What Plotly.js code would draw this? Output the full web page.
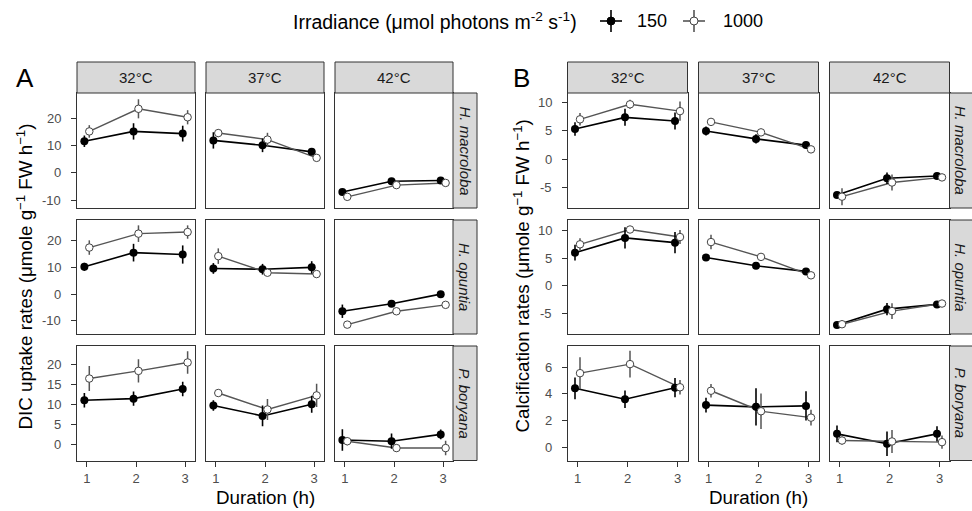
<!DOCTYPE html>
<html><head><meta charset="utf-8">
<script src="https://cdn.plot.ly/plotly-3.0.1.min.js"></script>
<style>html,body{margin:0;padding:0;background:#fff}#chart{width:972px;height:511px}</style>
</head><body><div id="chart"></div>
<script>
// ---------------- DATA ----------------
const durations = [1, 2, 3];
const temperatures = ['32°C', '37°C', '42°C'];
const species = ['H. macroloba', 'H. opuntia', 'P. boryana'];
const irradiances = ['150', '1000'];

// DIC uptake rates: [species][temperature][duration]
const dic150Mean = [
  [[11.6, 15.2, 14.4], [11.9, 10.1, 7.7], [-7.0, -3.1, -2.8]],
  [[10.2, 15.5, 14.8], [9.6, 9.3, 10.0], [-6.4, -3.6, 0.0]],
  [[11.1, 11.5, 13.9], [9.8, 7.2, 10.1], [1.2, 0.9, 2.6]]
];
const dic150Err = [
  [[2.1, 3.0, 2.9], [3.0, 2.5, 1.0], [1.0, 0.8, 0.8]],
  [[1.5, 3.3, 3.4], [2.0, 2.0, 2.3], [2.5, 0.8, 1.2]],
  [[1.8, 1.8, 1.8], [1.3, 2.6, 2.1], [2.7, 1.9, 1.2]]
];
const dic1000Mean = [
  [[15.2, 23.5, 20.4], [14.6, 12.2, 5.5], [-8.8, -4.5, -3.7]],
  [[17.4, 22.6, 23.2], [14.2, 8.0, 7.5], [-11.4, -6.4, -4.0]],
  [[16.5, 18.4, 20.5], [12.9, 8.8, 12.3], [0.9, -0.8, -0.8]]
];
const dic1000Err = [
  [[2.3, 3.5, 2.6], [1.5, 2.5, 0.8], [1.2, 0.8, 0.8]],
  [[2.7, 3.1, 2.5], [2.9, 1.0, 1.0], [0.8, 0.8, 0.8]],
  [[3.1, 2.9, 2.8], [0.7, 2.6, 2.9], [1.0, 1.0, 1.8]]
];

// Calcification rates: [species][temperature][duration]
const calc150Mean = [
  [[5.35, 7.4, 6.75], [5.0, 3.6, 2.5], [-6.3, -3.35, -2.95]],
  [[5.95, 8.6, 7.75], [5.1, 3.6, 2.6], [-7.0, -4.15, -3.3]],
  [[4.42, 3.6, 4.47], [3.16, 3.03, 3.1], [1.0, 0.26, 1.0]]
];
const calc150Err = [
  [[1.2, 1.5, 1.5], [0.8, 0.8, 0.4], [0.5, 1.0, 0.5]],
  [[1.4, 1.9, 1.9], [0.6, 0.4, 0.5], [0.4, 1.1, 0.5]],
  [[0.82, 0.65, 0.72], [0.55, 1.4, 1.1], [0.63, 0.92, 0.57]]
];
const calc1000Mean = [
  [[7.05, 9.7, 8.5], [6.6, 4.75, 1.75], [-6.6, -4.1, -3.2]],
  [[7.45, 10.1, 8.75], [7.85, 5.2, 1.9], [-6.85, -4.5, -3.15]],
  [[5.56, 6.24, 4.5], [4.24, 2.7, 2.22], [0.5, 0.43, 0.38]]
];
const calc1000Err = [
  [[1.1, 0.8, 1.7], [0.5, 0.4, 0.4], [1.5, 1.4, 0.4]],
  [[1.1, 0.5, 1.25], [1.3, 0.4, 0.4], [0.5, 1.4, 0.4]],
  [[1.2, 1.0, 0.55], [0.5, 1.33, 0.6], [0.3, 0.86, 0.5]]
];

// tick labels
const yTicksDIC = [[-10, 0, 10, 20], [-10, 0, 10, 20], [0, 5, 10, 15, 20]];
const yTicksCalc = [[-5, 0, 5, 10], [-5, 0, 5, 10], [0, 2, 4, 6]];

// ---------------- LAYOUT GEOMETRY ----------------
const W = 972, H = 511;
const FONT = 'Liberation Sans, Arial, sans-serif';
const px = v => v / W;
const py = v => 1 - v / H;

const panels = [
  {
    letter: 'A', letterX: 25,
    title: 'DIC uptake rates (μmole g<sup>−1</sup> FW h<sup>−1</sup>)', titleX: 24,
    cols: [[77, 195], [206, 324], [335, 453]], stripR: 477,
    yRanges: [[-12.9, 29.3], [-14.9, 27.7], [-3.9, 24.6]],
    yTicks: yTicksDIC,
    m150: dic150Mean, e150: dic150Err, m1000: dic1000Mean, e1000: dic1000Err
  },
  {
    letter: 'B', letterX: 521,
    title: 'Calcification rates (μmole g<sup>−1</sup> FW h<sup>−1</sup>)', titleX: 521,
    cols: [[567.5, 687.5], [698.5, 818.5], [829.5, 949.5]], stripR: 974,
    yRanges: [[-8.6, 11.7], [-8.6, 11.8], [-1.0, 7.6]],
    yTicks: yTicksCalc,
    m150: calc150Mean, e150: calc150Err, m1000: calc1000Mean, e1000: calc1000Err
  }
];
const rows = [[93, 208], [220, 334], [346, 460.5]];
const stripTop = 62, stripBot = 93;
const dodge = 0.05;
const yLabelGap = 15; // px between tick-label right edge and panel

const data = [];
const layout = {
  width: W, height: H,
  margin: {l: 0, r: 0, t: 0, b: 0},
  paper_bgcolor: '#fff', plot_bgcolor: '#fff',
  showlegend: false,
  font: {family: FONT, color: '#000'},
  shapes: [], annotations: []
};

const C150 = '#000000', C1000 = '#555555';

let k = 0;
panels.forEach((P, pi) => {
  rows.forEach((R, ri) => {
    P.cols.forEach((Cc, ci) => {
      k++;
      const xn = k === 1 ? 'xaxis' : 'xaxis' + k;
      const yn = k === 1 ? 'yaxis' : 'yaxis' + k;
      const xr = k === 1 ? 'x' : 'x' + k;
      const yr = k === 1 ? 'y' : 'y' + k;
      const bottom = ri === rows.length - 1;
      const left = ci === 0;
      layout[xn] = {
        domain: [px(Cc[0]), px(Cc[1])], anchor: yr,
        range: [0.8, 3.2], tickvals: durations, ticktext: durations.map(String),
        showticklabels: bottom, ticks: bottom ? 'outside' : '', ticklen: 5, tickwidth: 1,
        tickcolor: '#333333', tickfont: {size: 13, color: '#4D4D4D', family: FONT},
        ticklabelstandoff: 1,
        showline: true, mirror: true, linecolor: '#333333', linewidth: 1,
        showgrid: false, zeroline: false, fixedrange: true
      };
      const yt = P.yTicks[ri];
      layout[yn] = {
        domain: [py(R[1]), py(R[0])], anchor: xr,
        range: P.yRanges[ri], tickvals: yt,
        showticklabels: false, ticks: left ? 'outside' : '', ticklen: 5, tickwidth: 1,
        tickcolor: '#333333',
        showline: true, mirror: true, linecolor: '#333333', linewidth: 1,
        showgrid: false, zeroline: false, fixedrange: true
      };
      if (left) {
        // y tick labels placed on the axis' own scale
        yt.forEach(v => {
          layout.annotations.push({xref: 'paper', yref: yr, x: px(Cc[0] - yLabelGap), y: v,
            text: String(v), showarrow: false, xanchor: 'right', yanchor: 'middle', borderpad: 0,
            font: {size: 13, color: '#4D4D4D', family: FONT}});
        });
      }
      const x150 = durations.map(d => d - dodge);
      const x1000 = durations.map(d => d + dodge);
      const y150 = P.m150[ri][ci], y1000 = P.m1000[ri][ci];
      data.push({type: 'scatter', mode: 'lines', x: x150, y: y150, xaxis: xr, yaxis: yr,
        line: {color: C150, width: 1.6}, hoverinfo: 'skip', name: irradiances[0]});
      data.push({type: 'scatter', mode: 'lines', x: x1000, y: y1000, xaxis: xr, yaxis: yr,
        line: {color: C1000, width: 1.4}, hoverinfo: 'skip', name: irradiances[1]});
      data.push({type: 'scatter', mode: 'markers', x: x150, y: y150, xaxis: xr, yaxis: yr,
        marker: {color: C150, size: 8, line: {width: 0}},
        error_y: {type: 'data', array: P.e150[ri][ci], visible: true, width: 0, thickness: 1.6, color: C150},
        name: irradiances[0]});
      data.push({type: 'scatter', mode: 'markers', x: x1000, y: y1000, xaxis: xr, yaxis: yr,
        marker: {color: '#ffffff', size: 7.5, line: {color: '#444444', width: 1}},
        error_y: {type: 'data', array: P.e1000[ri][ci], visible: true, width: 0, thickness: 1.5, color: C1000},
        name: irradiances[1]});
    });
    // right strip
    layout.shapes.push({type: 'rect', xref: 'paper', yref: 'paper',
      x0: px(P.cols[2][1]), x1: px(P.stripR), y0: py(R[1]), y1: py(R[0]),
      fillcolor: '#D9D9D9', line: {color: '#333333', width: 1}});
    layout.annotations.push({xref: 'paper', yref: 'paper',
      x: px((P.cols[2][1] + Math.min(P.stripR, 973)) / 2 + (pi === 1 ? -0.5 : 0)), y: py((R[0] + R[1]) / 2),
      text: '<i>' + species[ri] + '</i>', textangle: 90, showarrow: false,
      xanchor: 'center', yanchor: 'middle', font: {size: 15, color: '#1A1A1A', family: FONT}});
  });
  // top strips
  P.cols.forEach((Cc, ci) => {
    layout.shapes.push({type: 'rect', xref: 'paper', yref: 'paper',
      x0: px(Cc[0]), x1: px(Cc[1]), y0: py(stripBot), y1: py(stripTop),
      fillcolor: '#D9D9D9', line: {color: '#333333', width: 1}});
    layout.annotations.push({xref: 'paper', yref: 'paper',
      x: px((Cc[0] + Cc[1]) / 2), y: py((stripTop + stripBot) / 2),
      text: temperatures[ci], showarrow: false, xanchor: 'center', yanchor: 'middle',
      font: {size: 15, color: '#1A1A1A', family: FONT}});
  });
  // panel letter
  layout.annotations.push({xref: 'paper', yref: 'paper', x: px(P.letterX), y: py(78),
    text: P.letter, showarrow: false, xanchor: 'center', yanchor: 'middle',
    font: {size: 26, color: '#000', family: FONT}});
  // y title
  layout.annotations.push({xref: 'paper', yref: 'paper', x: px(P.titleX), y: py(276.5),
    text: P.title, textangle: -90, showarrow: false, xanchor: 'center', yanchor: 'middle',
    font: {size: 18.8, color: '#000', family: FONT}});
  // x title
  layout.annotations.push({xref: 'paper', yref: 'paper', x: px((P.cols[0][0] + P.cols[2][1]) / 2), y: py(497),
    text: 'Duration (h)', showarrow: false, xanchor: 'center', yanchor: 'middle',
    font: {size: 18.8, color: '#000', family: FONT}});
});

// ---------------- LEGEND (drawn as decoration) ----------------
const legY = 21;
layout.annotations.push({xref: 'paper', yref: 'paper', x: px(291), y: py(legY),
  text: 'Irradiance (μmol photons m<sup>-2</sup> s<sup>-1</sup>)', showarrow: false,
  xanchor: 'left', yanchor: 'middle', font: {size: 19.5, color: '#000', family: FONT}});
const legendKeys = [
  {cx: 611, label: irradiances[0], lx: 635, line: C150, fill: C150, edge: C150},
  {cx: 694, label: irradiances[1], lx: 721, line: C1000, fill: '#ffffff', edge: '#444444'}
];
legendKeys.forEach(K => {
  layout.shapes.push({type: 'line', xref: 'paper', yref: 'paper',
    x0: px(K.cx - 11), x1: px(K.cx + 11), y0: py(legY), y1: py(legY), line: {color: K.line, width: 1.6}});
  layout.shapes.push({type: 'line', xref: 'paper', yref: 'paper',
    x0: px(K.cx), x1: px(K.cx), y0: py(legY - 11), y1: py(legY + 11), line: {color: K.line, width: 1.6}});
  layout.shapes.push({type: 'circle', xref: 'paper', yref: 'paper',
    xsizemode: 'pixel', ysizemode: 'pixel', xanchor: px(K.cx), yanchor: py(legY),
    x0: -4, x1: 4, y0: -4, y1: 4, fillcolor: K.fill, line: {color: K.edge, width: 1}});
  layout.annotations.push({xref: 'paper', yref: 'paper', x: px(K.lx), y: py(legY),
    text: K.label, showarrow: false, xanchor: 'left', yanchor: 'middle',
    font: {size: 18, color: '#000', family: FONT}});
});

Plotly.newPlot('chart', data, layout, {displayModeBar: false, staticPlot: true});
</script>
</body></html>
